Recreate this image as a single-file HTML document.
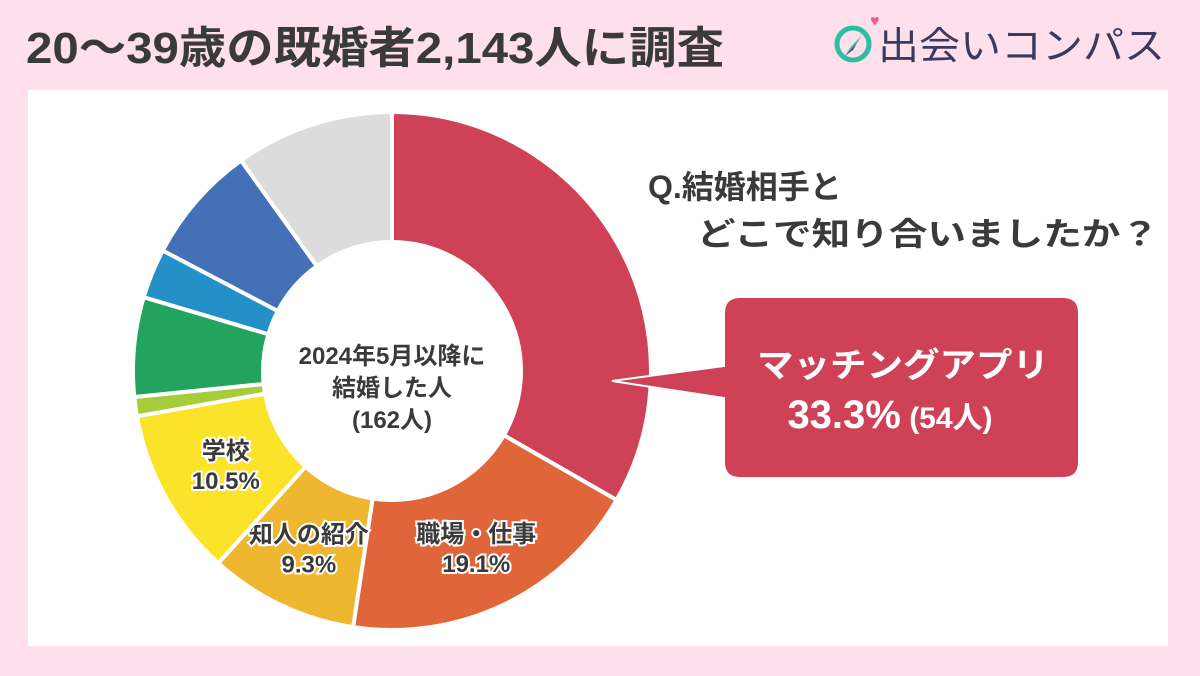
<!DOCTYPE html>
<html><head><meta charset="utf-8"><style>
body{margin:0;width:1200px;height:676px;background:#fde0ec;overflow:hidden;font-family:"Liberation Sans","Noto Sans CJK JP",sans-serif}
</style></head><body>
<svg width="1200" height="676" viewBox="0 0 1200 676" style="display:block;font-family:'Liberation Sans','Noto Sans CJK JP',sans-serif">
<rect x="0" y="0" width="1200" height="676" fill="#fde0ec"/>
<text x="26" y="63" font-size="44" font-weight="bold" fill="#3a3a3a" textLength="698" lengthAdjust="spacingAndGlyphs">20～39歳の既婚者2,143人に調査</text>
<g>
<circle cx="853" cy="44" r="16" fill="none" stroke="#2bbfa0" stroke-width="5"/>
<polygon points="862,35 850,48 845,56 857,43" fill="#2bbfa0"/>
<polygon points="845,56 857,43 853,50" fill="#3a4a6a"/>
<text x="870" y="26" font-size="16" fill="#ef5b93">♥</text>
<text x="878" y="59" font-size="38" fill="#3a3a5e" textLength="287" lengthAdjust="spacingAndGlyphs">出会いコンパス</text>
</g>
<rect x="28" y="90" width="1140" height="556" fill="#ffffff"/>
<g id="donut"></g>
<text x="648" y="198" font-size="32" font-weight="bold" fill="#3a3a3a">Q.結婚相手と</text>
<text x="697" y="245" font-size="32" font-weight="bold" fill="#3a3a3a" textLength="462" lengthAdjust="spacingAndGlyphs">どこで知り合いましたか？</text>
<g>
<path d="M740,297 H1063 Q1079,297 1079,313 V462 Q1079,478 1063,478 H740 Q724,478 724,462 V398 L612,381 L724,366 V313 Q724,297 740,297 Z" fill="#cf4156" stroke="#fff" stroke-width="2"/>
<text x="903" y="377" font-size="34" font-weight="bold" fill="#fff" text-anchor="middle" textLength="292" lengthAdjust="spacingAndGlyphs">マッチングアプリ</text>
<text x="890" y="428" font-size="40" font-weight="bold" fill="#fff" text-anchor="middle">33.3%<tspan font-size="30"> (54人)</tspan></text>
</g>
</svg>
<script>
const categories=["マッチングアプリ","職場・仕事","知人の紹介","学校","その他1","その他2","その他3","その他4","その他5"];
const values=[33.3,19.1,9.3,10.5,1.2,6.2,3.1,7.4,9.9];
const colors=["#cf4156","#e0663a","#efb630","#fbe32a","#a6cc3a","#22a35e","#2490c8","#4470b8","#dcdcdc"];
const labelLines=[null,["職場・仕事","19.1%"],["知人の紹介","9.3%"],["学校","10.5%"],null,null,null,null,null];
const NS="http://www.w3.org/2000/svg";
const cx=392,cy=371,R=259,r=129;
const g=document.getElementById('donut');
const total=values.reduce((a,b)=>a+b,0);
function pt(a,rad){return [cx+rad*Math.sin(a),cy-rad*Math.cos(a)];}
let acc=0;
values.forEach((v,i)=>{
  const a0=acc/total*2*Math.PI,a1=(acc+v)/total*2*Math.PI;acc+=v;
  const large=(a1-a0)>Math.PI?1:0;
  const p0=pt(a0,R),p1=pt(a1,R),q1=pt(a1,r),q0=pt(a0,r);
  const p=document.createElementNS(NS,'path');
  p.setAttribute('d',`M${p0} A${R},${R} 0 ${large} 1 ${p1} L${q1} A${r},${r} 0 ${large} 0 ${q0} Z`);
  p.setAttribute('fill',colors[i]);p.setAttribute('stroke','#fff');p.setAttribute('stroke-width','4');
  
  
  g.appendChild(p);
  if(labelLines[i]){
    const am=(a0+a1)/2,[lx,ly]=pt(am,(R+r)/2+(i===3?-4:0));
    labelLines[i].forEach((s,k)=>{
      const t=document.createElementNS(NS,'text');
      t.setAttribute('x',lx);t.setAttribute('y',ly-4+k*30);
      t.setAttribute('text-anchor','middle');t.setAttribute('font-size','24');t.setAttribute('font-weight','bold');
      t.setAttribute('fill','#3a3a3a');t.setAttribute('stroke','#fff');t.setAttribute('stroke-width','4');t.setAttribute('paint-order','stroke');
      t.textContent=s;
      
      
      g.appendChild(t);
    });
  }
});
["2024年5月以降に","結婚した人","(162人)"].forEach((s,k)=>{
  const t=document.createElementNS(NS,'text');
  t.setAttribute('x',cx);t.setAttribute('y',364+k*32);
  t.setAttribute('text-anchor','middle');t.setAttribute('font-size','24');t.setAttribute('font-weight','bold');t.setAttribute('fill','#3a3a3a');
  t.textContent=s;
  
  
  g.appendChild(t);
});
</script>
</body></html>
